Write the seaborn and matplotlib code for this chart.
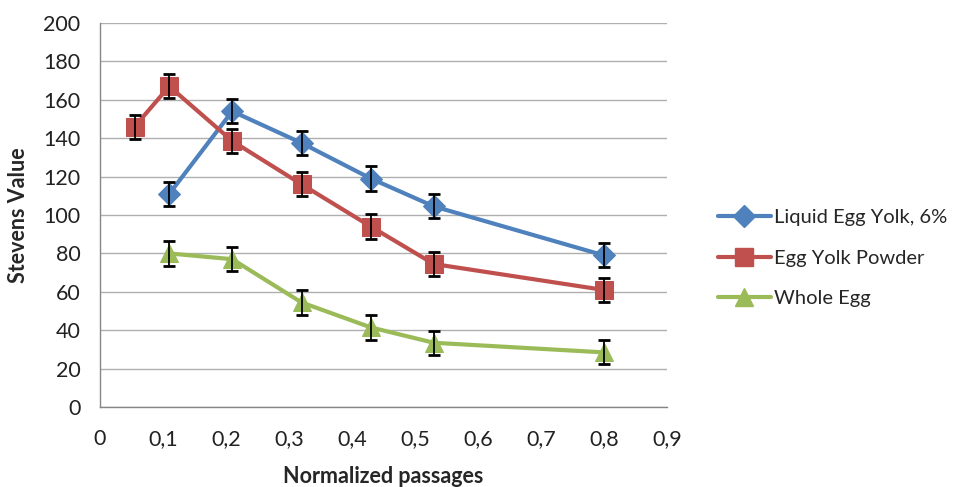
import numpy as np
import pandas as pd
import matplotlib
matplotlib.use("Agg")
import matplotlib.pyplot as plt
import seaborn as sns
from matplotlib.ticker import MultipleLocator, FuncFormatter
from matplotlib.lines import Line2D

# ---- data ----
liquid_x = [0.11, 0.21, 0.32, 0.43, 0.53, 0.80]
liquid_y = [111, 154, 137.5, 119, 104.5, 79]
liquid_err = [6.3, 6.3, 6.3, 6.3, 6.3, 6.3]

powder_x = [0.055, 0.11, 0.21, 0.32, 0.43, 0.53, 0.80]
powder_y = [146, 167, 138.5, 116, 94, 74.5, 61]
powder_err = [6.3, 6.3, 6.3, 6.3, 6.3, 6.3, 6.3]

whole_x = [0.11, 0.21, 0.32, 0.43, 0.53, 0.80]
whole_y = [80, 77, 54.5, 41.5, 33.5, 28.5]
whole_err = [6.3, 6.3, 6.3, 6.3, 6.3, 6.3]

series_names = ["Liquid Egg Yolk, 6%", "Egg Yolk Powder", "Whole Egg"]
x_label = "Normalized passages"
y_label = "Stevens Value"

sns.set_style("white")
plt.rcParams['font.family'] = ['Lato', 'DejaVu Sans']

colors = ["#4F81BD", "#C0504D", "#9BBB59"]
markers = ["D", "s", "^"]
msizes = [11, 13, 13]
FS = 15.5

frames = []
for name, xs, ys, es in zip(series_names,
                            [liquid_x, powder_x, whole_x],
                            [liquid_y, powder_y, whole_y],
                            [liquid_err, powder_err, whole_err]):
    frames.append(pd.DataFrame({"x": xs, "y": ys, "err": es, "series": name}))
df = pd.concat(frames, ignore_index=True)

fig = plt.figure(figsize=(9.64, 4.87), dpi=100)
ax = fig.add_axes([0.1037, 0.164, 0.588, 0.789])

for name, c, m, ms in zip(series_names, colors, markers, msizes):
    d = df[df.series == name]
    ax.errorbar(d.x, d.y, yerr=d.err, fmt="none", ecolor="black",
                elinewidth=1.3, capsize=4, capthick=2, zorder=4)
    sns.lineplot(data=d, x="x", y="y", ax=ax, color=c, linewidth=3,
                 marker=m, markersize=ms, markeredgecolor=c,
                 errorbar=None, legend=False, zorder=3, sort=False)

ax.set_xlim(0, 0.9)
ax.set_ylim(0, 200)
ax.xaxis.set_major_locator(MultipleLocator(0.1))
ax.xaxis.set_minor_locator(MultipleLocator(0.02))
ax.yaxis.set_major_locator(MultipleLocator(20))
ax.yaxis.set_minor_locator(MultipleLocator(4))

def fmt_x(v, pos):
    s = f"{v:.1f}".replace(".", ",")
    return "0" if abs(v) < 1e-9 else s
ax.xaxis.set_major_formatter(FuncFormatter(fmt_x))

ax.grid(axis="y", which="major", color="#AFAFAF", linewidth=1)
ax.grid(axis="x", visible=False)
ax.set_axisbelow(True)

for s in ["top", "right"]:
    ax.spines[s].set_visible(False)
for s in ["left", "bottom"]:
    ax.spines[s].set_color("#868686")
    ax.spines[s].set_linewidth(1)

ax.tick_params(axis="both", which="major", direction="out", length=6,
               width=1, color="#868686", labelsize=FS, labelcolor="#222222")
ax.tick_params(axis="both", which="minor", direction="in", length=4,
               width=1, color="#868686")
ax.tick_params(axis="x", which="major", pad=10)
ax.tick_params(axis="y", which="major", pad=8)

ax.set_xlabel(x_label, fontsize=FS, fontweight="bold", labelpad=12)
ax.set_ylabel(y_label, fontsize=FS, fontweight="bold", labelpad=10)

handles = [Line2D([0], [0], color=c, linewidth=3, marker=m, markersize=ms,
                  markeredgecolor=c)
           for c, m, ms in zip(colors, markers, msizes)]
fig.legend(handles, series_names, loc="center left",
           bbox_to_anchor=(0.745, 0.47), frameon=False, fontsize=14.5,
           handlelength=2.6, labelspacing=1.15, handletextpad=0.15,
           borderpad=0, borderaxespad=0)

fig.savefig("out.png", dpi=100)
